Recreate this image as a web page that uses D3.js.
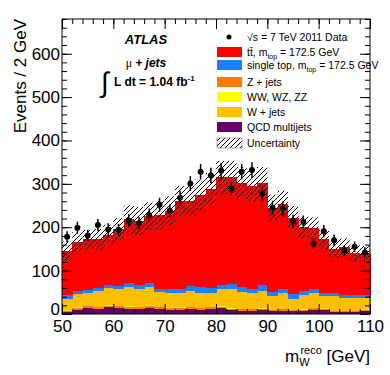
<!DOCTYPE html>
<html>
<head>
<meta charset="utf-8">
<script src="https://cdn.jsdelivr.net/npm/d3@7"></script>
<style>
  body { margin: 0; background: #fff; }
  text { font-family: "Liberation Sans", Arial, sans-serif; }
</style>
</head>
<body>
<div id="chart"></div>
<script>
// bin low edges, 2 GeV wide
var binLow = d3.range(50, 110, 2);

// stacked backgrounds, bottom to top
var qcd = [5,10,14,12,15,13,11,12,14,11,10,10,12,10,11,13,9,8,8,9,6,8,7,7,10,9,5,4,5,8];
var zjets = [3,4,4,4,4,5,6,4,5,4,4,4,4,3,4,4,3,3,3,3,3,3,2,3,3,3,2,2,2,2];
var diboson = [1,1,1,1,1,1,1,1,1,1,1,1,1,1,1,1,1,1,1,1,1,1,1,1,1,1,1,1,1,1];
var wjets = [26,30,30,37,41,38,45,41,43,34,33,34,36,35,32,39,45,38,36,41,32,37,25,33,34,29,34,29,28,27];
var singletop = [9,7,7,6,6,8,8,9,9,8,9,9,12,14,11,10,11,12,10,12,9,9,10,10,9,6,6,7,7,6];
var ttbar = [101,115,116,112,114,130,147,148,153,170,181,203,196,212,230,248,246,240,238,237,194,196,177,146,141,124,101,111,97,94];
var uncert = [22,22,22,24,25,26,32,32,32,33,33,34,35,35,36,38,38,37,36,36,30,30,27,25,25,22,20,20,19,19];

// data
var data = [178,199,181,205,195,194,215,209,228,252,238,268,301,328,319,330,289,328,332,277,245,243,214,212,162,191,170,146,155,142];
var dataErr = [13,14,13,14,14,14,15,14,15,16,15,16,17,18,18,18,17,18,18,17,16,16,15,15,13,14,13,12,12,12];

var xTicks = [50,60,70,80,90,100,110];
var yTicks = [0,100,200,300,400,500,600];

var layers = [
  {name: "qcd", vals: qcd, color: "#660066"},
  {name: "zjets", vals: zjets, color: "#ff7a00"},
  {name: "diboson", vals: diboson, color: "#ffff00"},
  {name: "wjets", vals: wjets, color: "#ffbf00"},
  {name: "singletop", vals: singletop, color: "#1a80ff"},
  {name: "ttbar", vals: ttbar, color: "#ff0000"}
];

var W = 390, H = 375;
var L = 62, R = 370, T = 19, B = 314;

var svg = d3.select("#chart").append("svg")
  .attr("width", W)
  .attr("height", H);

var x = d3.scaleLinear().domain([50, 110]).range([L, R]);
var y = d3.scaleLinear().domain([0, 680]).range([B, T]);

var defs = svg.append("defs");
var pat = defs.append("pattern")
  .attr("id", "hatch")
  .attr("patternUnits", "userSpaceOnUse")
  .attr("width", 5).attr("height", 5);
pat.append("path")
  .attr("d", "M-1,1 L1,-1 M0,5 L5,0 M4,6 L6,4")
  .attr("stroke", "#000").attr("stroke-width", 1);

// stacked histogram
var rows = binLow.map(function (lo, i) {
  var r = {lo: lo};
  layers.forEach(function (l) { r[l.name] = l.vals[i]; });
  return r;
});
var stack = d3.stack().keys(layers.map(function (l) { return l.name; }));
var series = stack(rows);

svg.append("g").selectAll("g")
  .data(series)
  .enter().append("g")
  .attr("fill", function (d, i) { return layers[i].color; })
  .selectAll("rect")
  .data(function (d) { return d; })
  .enter().append("rect")
  .attr("x", function (d) { return x(d.data.lo); })
  .attr("width", function (d) { return x(d.data.lo + 2) - x(d.data.lo) + 0.5; })
  .attr("y", function (d) { return y(d[1]); })
  .attr("height", function (d) { return y(d[0]) - y(d[1]); })
  .attr("shape-rendering", "crispEdges");

// uncertainty band around the total
var totalLayer = series[series.length - 1];
svg.append("g").selectAll("rect")
  .data(totalLayer)
  .enter().append("rect")
  .attr("x", function (d) { return x(d.data.lo); })
  .attr("width", function (d) { return x(d.data.lo + 2) - x(d.data.lo); })
  .attr("y", function (d, i) { return y(d[1] + uncert[i]); })
  .attr("height", function (d, i) { return y(d[1] - uncert[i]) - y(d[1] + uncert[i]); })
  .attr("fill", "url(#hatch)");

// data points
var pts = svg.append("g").selectAll("g")
  .data(data)
  .enter().append("g");
pts.append("line")
  .attr("x1", function (d, i) { return x(binLow[i] + 1); })
  .attr("x2", function (d, i) { return x(binLow[i] + 1); })
  .attr("y1", function (d, i) { return y(d - dataErr[i]); })
  .attr("y2", function (d, i) { return y(d + dataErr[i]); })
  .attr("stroke", "#000").attr("stroke-width", 1.5);
pts.append("circle")
  .attr("cx", function (d, i) { return x(binLow[i] + 1); })
  .attr("cy", function (d) { return y(d); })
  .attr("r", 3)
  .attr("fill", "#000");

// axes: ticks inside on all sides
function tickAxis(axis, scale, vals, size, tx, ty) {
  var g = svg.append("g")
    .attr("transform", "translate(" + tx + "," + ty + ")")
    .call(axis(scale).tickValues(vals).tickSize(size).tickFormat(""));
  g.select(".domain").remove();
  g.selectAll("line").attr("stroke", "#000");
  return g;
}
var xMinor = d3.range(50, 111, 2);
var yMinor = d3.range(0, 681, 20);
tickAxis(d3.axisBottom, x, xTicks, -10, 0, B);
tickAxis(d3.axisBottom, x, xMinor, -5, 0, B);
tickAxis(d3.axisTop, x, xTicks, -10, 0, T);
tickAxis(d3.axisTop, x, xMinor, -5, 0, T);
tickAxis(d3.axisLeft, y, yTicks, -10, L, 0);
tickAxis(d3.axisLeft, y, yMinor, -5, L, 0);
tickAxis(d3.axisRight, y, yTicks, -10, R, 0);
tickAxis(d3.axisRight, y, yMinor, -5, R, 0);

// tick labels
var xl = svg.append("g")
  .attr("transform", "translate(0," + B + ")")
  .call(d3.axisBottom(x).tickValues(xTicks).tickSize(0).tickPadding(6));
xl.select(".domain").remove();
xl.selectAll("text").attr("font-size", 17).attr("fill", "#000")
  .attr("font-family", "Liberation Sans, Arial, sans-serif").attr("dy", "0.72em");

var yl = svg.append("g")
  .attr("transform", "translate(" + L + ",0)")
  .call(d3.axisLeft(y).tickValues(yTicks).tickSize(0).tickPadding(2));
yl.select(".domain").remove();
yl.selectAll("text").attr("font-size", 17).attr("fill", "#000")
  .attr("font-family", "Liberation Sans, Arial, sans-serif");
// the zero label sits just above the 50 label, as in the original
yl.selectAll("text").filter(function (d) { return d === 0; }).attr("dy", "0.02em");

// frame
svg.append("rect")
  .attr("x", L).attr("y", T)
  .attr("width", R - L).attr("height", B - T)
  .attr("fill", "none").attr("stroke", "#000").attr("stroke-width", 1);

// axis titles
var xt = svg.append("text")
  .attr("x", R).attr("y", 362)
  .attr("text-anchor", "end")
  .attr("font-size", 17);
xt.append("tspan").text("m");
xt.append("tspan").attr("font-size", 11).attr("dy", 4).text("W");
xt.append("tspan").attr("font-size", 11).attr("dx", -9).attr("dy", -12).text("reco");
xt.append("tspan").attr("dy", 8).text(" [GeV]");

svg.append("text")
  .attr("transform", "translate(26," + T + ") rotate(-90)")
  .attr("text-anchor", "end")
  .attr("font-size", 17)
  .text("Events / 2 GeV");

// labels
svg.append("text")
  .attr("x", 146).attr("y", 44)
  .attr("text-anchor", "middle")
  .attr("font-size", 13).attr("font-weight", "bold").attr("font-style", "italic")
  .text("ATLAS");

var mu = svg.append("text")
  .attr("x", 146).attr("y", 67)
  .attr("text-anchor", "middle")
  .attr("font-size", 12);
mu.append("tspan").attr("font-family", "Liberation Serif, serif").text("\u03bc ");
mu.append("tspan").attr("font-weight", "bold").attr("font-style", "italic").text("+ jets");

svg.append("text")
  .attr("x", 101).attr("y", 92)
  .attr("font-family", "Liberation Serif, serif")
  .attr("font-size", 28)
  .text("\u222b");
var lumi = svg.append("text")
  .attr("x", 114).attr("y", 86)
  .attr("font-family", "Liberation Serif, serif")
  .attr("font-size", 12).attr("font-weight", "bold");
lumi.append("tspan").text("L dt = 1.04 fb");
lumi.append("tspan").attr("font-size", 8).attr("dy", -5).text("-1");

// legend
var legend = [
  {type: "marker", label: [["\u221as = 7 TeV 2011 Data"]]},
  {type: "box", color: "#ff0000", label: [["tt\u0304, m"], ["top", "sub"], [" = 172.5 GeV"]]},
  {type: "box", color: "#1a80ff", label: [["single top, m"], ["top", "sub"], [" = 172.5 GeV"]]},
  {type: "box", color: "#ff7a00", label: [["Z + jets"]]},
  {type: "box", color: "#ffff00", label: [["WW, WZ, ZZ"]]},
  {type: "box", color: "#ffbf00", label: [["W + jets"]]},
  {type: "box", color: "#660066", label: [["QCD multijets"]]},
  {type: "hatch", label: [["Uncertainty"]]}
];
var legY = [37, 52, 65, 82, 97, 112, 127, 143];

var lg = svg.append("g").selectAll("g")
  .data(legend)
  .enter().append("g")
  .attr("transform", function (d, i) { return "translate(0," + legY[i] + ")"; });

lg.filter(function (d) { return d.type === "marker"; })
  .append("circle").attr("cx", 229).attr("cy", 0).attr("r", 2.5).attr("fill", "#000");
lg.filter(function (d) { return d.type === "box"; })
  .append("rect").attr("x", 217).attr("y", -5).attr("width", 25).attr("height", 10)
  .attr("fill", function (d) { return d.color; });
lg.filter(function (d) { return d.type === "hatch"; })
  .append("rect").attr("x", 217).attr("y", -5).attr("width", 25).attr("height", 10)
  .attr("fill", "url(#hatch)").attr("stroke", "#666").attr("stroke-width", 0.5);

lg.each(function (d) {
  var t = d3.select(this).append("text")
    .attr("x", 247).attr("y", 4)
    .attr("font-size", 10.5);
  d.label.forEach(function (p) {
    var s = t.append("tspan").text(p[0]);
    if (p[1] === "sub") {
      s.attr("font-size", 7).attr("dy", 3);
    } else if (t.selectAll("tspan").size() > 1) {
      s.attr("dy", -3);
    }
  });
});
</script>
</body>
</html>
